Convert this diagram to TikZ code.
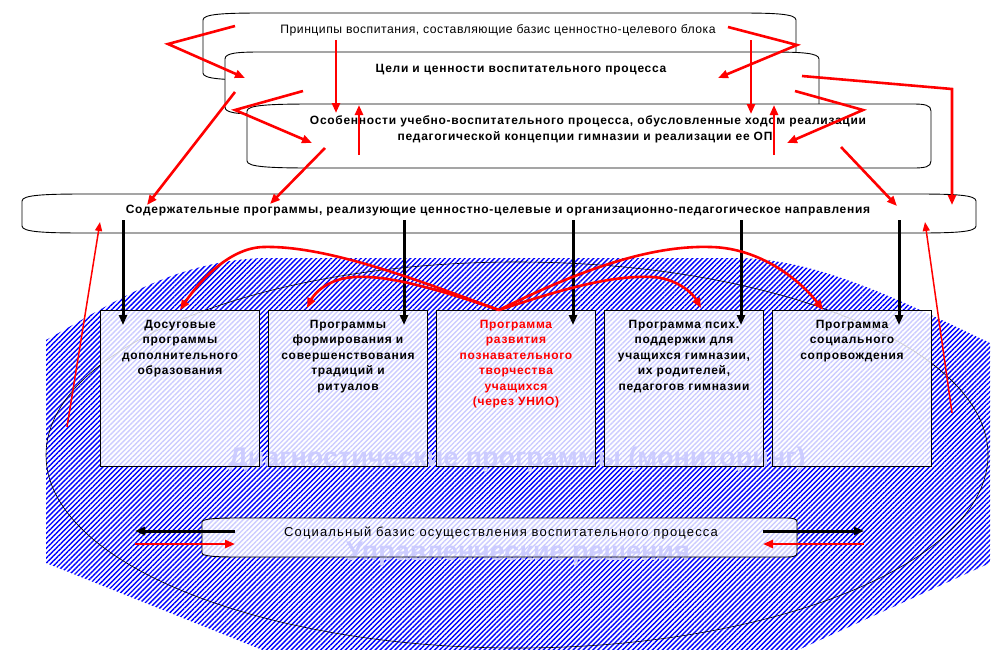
\documentclass[tikz,border=0pt]{standalone}
\usepackage{fontspec}
\setmainfont{Liberation Sans}
\newfontfamily\fr[LetterSpace=4]{Liberation Sans}
\newfontfamily\frw[LetterSpace=9]{Liberation Sans}
\newfontfamily\fb[LetterSpace=6]{Liberation Sans}
\usetikzlibrary{arrows.meta,patterns.meta}
\definecolor{hatchblue}{RGB}{0,0,255}
\definecolor{pale}{RGB}{204,204,255}
\definecolor{rd}{RGB}{255,0,0}
\tikzset{
  shp/.style={draw=black, line width=0.9pt, fill=white},
  scrollshp/.style n args={7}{insert path={
    (#1+#5,#2) -- (#3-#6,#2) .. controls (#3-0.35*#6,#2) and (#3,#2+1) .. (#3,#2+#7)
    -- (#3,#4-#7) .. controls (#3,#4-1) and (#3-0.35*#6,#4) .. (#3-#6,#4)
    -- (#1+#5,#4) .. controls (#1+0.35*#5,#4) and (#1,#4-1) .. (#1,#4-#7)
    -- (#1,#2+#7) .. controls (#1,#2+1) and (#1+0.35*#5,#2) .. (#1+#5,#2) -- cycle}},
  rarr/.style={draw=rd, line width=2.6pt, -{Triangle[length=10pt,width=8pt]}},
  rthin/.style={draw=rd, line width=1.5pt, -{Triangle[length=9pt,width=7pt]}},
  barr/.style={draw=black, line width=3pt, -{Triangle[length=10pt,width=8pt]}},
  progbox/.style={fill=white, fill opacity=0.8, minimum width=158pt, minimum height=155pt, inner sep=0pt},
  btxt/.style={font=\fb\bfseries\fontsize{12}{15.5}\selectfont, align=center, anchor=north, inner sep=0pt},
  rtxt/.style={font=\fr\fontsize{12.2}{14}\selectfont, anchor=base, inner sep=0pt},
  bltxt/.style={font=\fb\bfseries\fontsize{12}{14}\selectfont, anchor=base, inner sep=0pt},
  paletxt/.style={font=\bfseries\fontsize{27}{30}\selectfont, text=pale, anchor=base, inner sep=0pt},
}
\begin{document}
\begin{tikzpicture}[x=1pt,y=-1pt]
\useasboundingbox (0,0) rectangle (999,649);
\clip (0,0) rectangle (999,649);
\fill[white] (0,0) rectangle (999,649);
% hatched field
\fill[pattern={Lines[angle=45,distance=3.5pt,line width=1.4pt]}, pattern color=hatchblue]
  (46,340) .. controls (110,305) and (170,262) .. (262,258) -- (740,258)
  .. controls (820,260) and (900,300) .. (990,343) -- (990,563) -- (787,655)
  -- (275,655) -- (46,563) -- cycle;
\draw[black, line width=0.6pt] (517,455) ellipse [x radius=471, y radius=193];
% top shapes
\draw[shp, scrollshp={203}{13}{796}{80}{59}{56}{7}];
\draw[shp, scrollshp={225}{52}{819}{114}{35}{49}{7}];
\draw[shp, scrollshp={247}{104}{931}{168}{66}{18}{7}];
\draw[shp, scrollshp={22}{194}{976}{233}{63}{59}{7}];
\node[rtxt] (t1) at (498,33) {Принципы воспитания, составляющие базис ценностно-целевого блока};
\node[bltxt] (t2) at (521,72) {Цели и ценности воспитательного процесса};
\node[bltxt] (t3a) at (588,124) {Особенности учебно-воспитательного процесса, обусловленные ходом реализации};
\node[bltxt] (t3b) at (585,140) {педагогической концепции гимназии и реализации ее ОП};
\node[bltxt] (t4) at (498,213) {Содержательные программы, реализующие ценностно-целевые и организационно-педагогическое направления};
% program boxes
\node[progbox] (b1) at (180,388.5) {};
\node[progbox] (b2) at (348,388.5) {};
\node[progbox] (b3) at (516,388.5) {};
\node[progbox] (b4) at (684,388.5) {};
\node[progbox] (b5) at (852,388.5) {};
% bottom shape
\fill[white, fill opacity=0.8, scrollshp={202}{518}{797}{557}{35}{10}{4}];
% pale texts
\node[paletxt] (diag) at (517,466) {Диагностические программы (мониторинг)};
\node[paletxt] (upr) at (518,560) {Управленческие решения};
\draw[black, line width=0.9pt, scrollshp={202}{518}{797}{557}{35}{10}{4}];
\foreach \b in {b1,b2,b3,b4,b5} \draw[black, line width=0.9pt] (\b.north west) rectangle (\b.south east);
\node[btxt] (b1t) at (180,320) {Досуговые\\программы\\дополнительного\\образования};
\node[btxt] (b2t) at (348,320) {Программы\\формирования и\\совершенствования\\традиций и\\ритуалов};
\node[btxt, text=rd] (b3t) at (516,320) {Программа\\развития\\познавательного\\творчества\\учащихся\\(через УНИО)};
\node[btxt] (b4t) at (684,320) {Программа псих.\\поддержки для\\учащихся гимназии,\\их родителей,\\педагогов гимназии};
\node[btxt] (b5t) at (852,320) {Программа\\социального\\сопровождения};
\node[font=\frw\fontsize{13}{15}\selectfont, anchor=base, inner sep=0pt] (t5) at (501,536) {Социальный базис осуществления воспитательного процесса};
% coordinates
\coordinate (p1a) at (235,26); \coordinate (p1b) at (168,44); \coordinate (p1c) at (245,78);
\coordinate (p2a) at (336,40); \coordinate (p2b) at (336,113);
\coordinate (p3a) at (359,155); \coordinate (p3b) at (359,105);
\coordinate (p4a) at (303,91); \coordinate (p4b) at (235,110); \coordinate (p4c) at (312,143);
\coordinate (p5a) at (235,92); \coordinate (p5b) at (147,205);
\coordinate (p6a) at (325,148); \coordinate (p6b) at (270,204);
\coordinate (p7a) at (728,27); \coordinate (p7b) at (797,45); \coordinate (p7c) at (718,78);
\coordinate (p8a) at (751,40); \coordinate (p8b) at (751,114);
\coordinate (p9a) at (774,155); \coordinate (p9b) at (774,105);
\coordinate (p10a) at (795,91); \coordinate (p10b) at (863,110); \coordinate (p10c) at (787,143);
\coordinate (p11a) at (802,76); \coordinate (p11b) at (952,89); \coordinate (p11c) at (952,205);
\coordinate (p12a) at (841,147); \coordinate (p12b) at (897,206);
\coordinate (p13a) at (952,413); \coordinate (p13b) at (925,222);
\coordinate (p14a) at (67,427); \coordinate (p14b) at (100,222);
% red arrows
\draw[rarr] (p1a) -- (p1b) -- (p1c);
\draw[rarr] (p2a) -- (p2b);
\draw[rarr] (p3a) -- (p3b);
\draw[rarr] (p4a) -- (p4b) -- (p4c);
\draw[rarr] (p5a) -- (p5b);
\draw[rarr] (p6a) -- (p6b);
\draw[rarr] (p7a) -- (p7b) -- (p7c);
\draw[rarr] (p8a) -- (p8b);
\draw[rarr] (p9a) -- (p9b);
\draw[rarr] (p10a) -- (p10b) -- (p10c);
\draw[rarr] (p11a) -- (p11b) -- (p11c);
\draw[rarr] (p12a) -- (p12b);
\draw[rthin] (p13a) -- (p13b);
\draw[rthin] (p14a) -- (p14b);
% black arrows from content programs
\foreach \x/\n in {123/1,404/2,573/3,741/4,899/5} {
  \coordinate (k\n a) at (\x,220); \coordinate (k\n b) at (\x,325);
  \draw[barr] (k\n a) -- (k\n b);
}
% curved arrows from box 3
\coordinate (hub) at (499,310);
\coordinate (c1) at (180,310); \coordinate (c2) at (307,308);
\coordinate (c4) at (701,308); \coordinate (c5) at (823,310);
\draw[rarr] (hub) .. controls (430,285) and (330,245) .. (263,247) .. controls (230,248) and (200,280) .. (c1);
\draw[rarr] (hub) .. controls (440,290) and (390,275) .. (355,277) .. controls (330,278) and (315,292) .. (c2);
\draw[rarr] (hub) .. controls (560,290) and (610,275) .. (652,277) .. controls (675,278) and (692,292) .. (c4);
\draw[rarr] (hub) .. controls (580,270) and (650,245) .. (711,247) .. controls (760,248) and (800,280) .. (c5);
% bottom arrows
\coordinate (l1a) at (235,531); \coordinate (l1b) at (135,531);
\coordinate (l2a) at (135,544); \coordinate (l2b) at (235,544);
\coordinate (r1a) at (763,531); \coordinate (r1b) at (864,531);
\coordinate (r2a) at (864,544); \coordinate (r2b) at (763,544);
\draw[barr] (l1a) -- (l1b);
\draw[rarr] (l2a) -- (l2b);
\draw[barr] (r1a) -- (r1b);
\draw[rarr] (r2a) -- (r2b);
\end{tikzpicture}
\end{document}
